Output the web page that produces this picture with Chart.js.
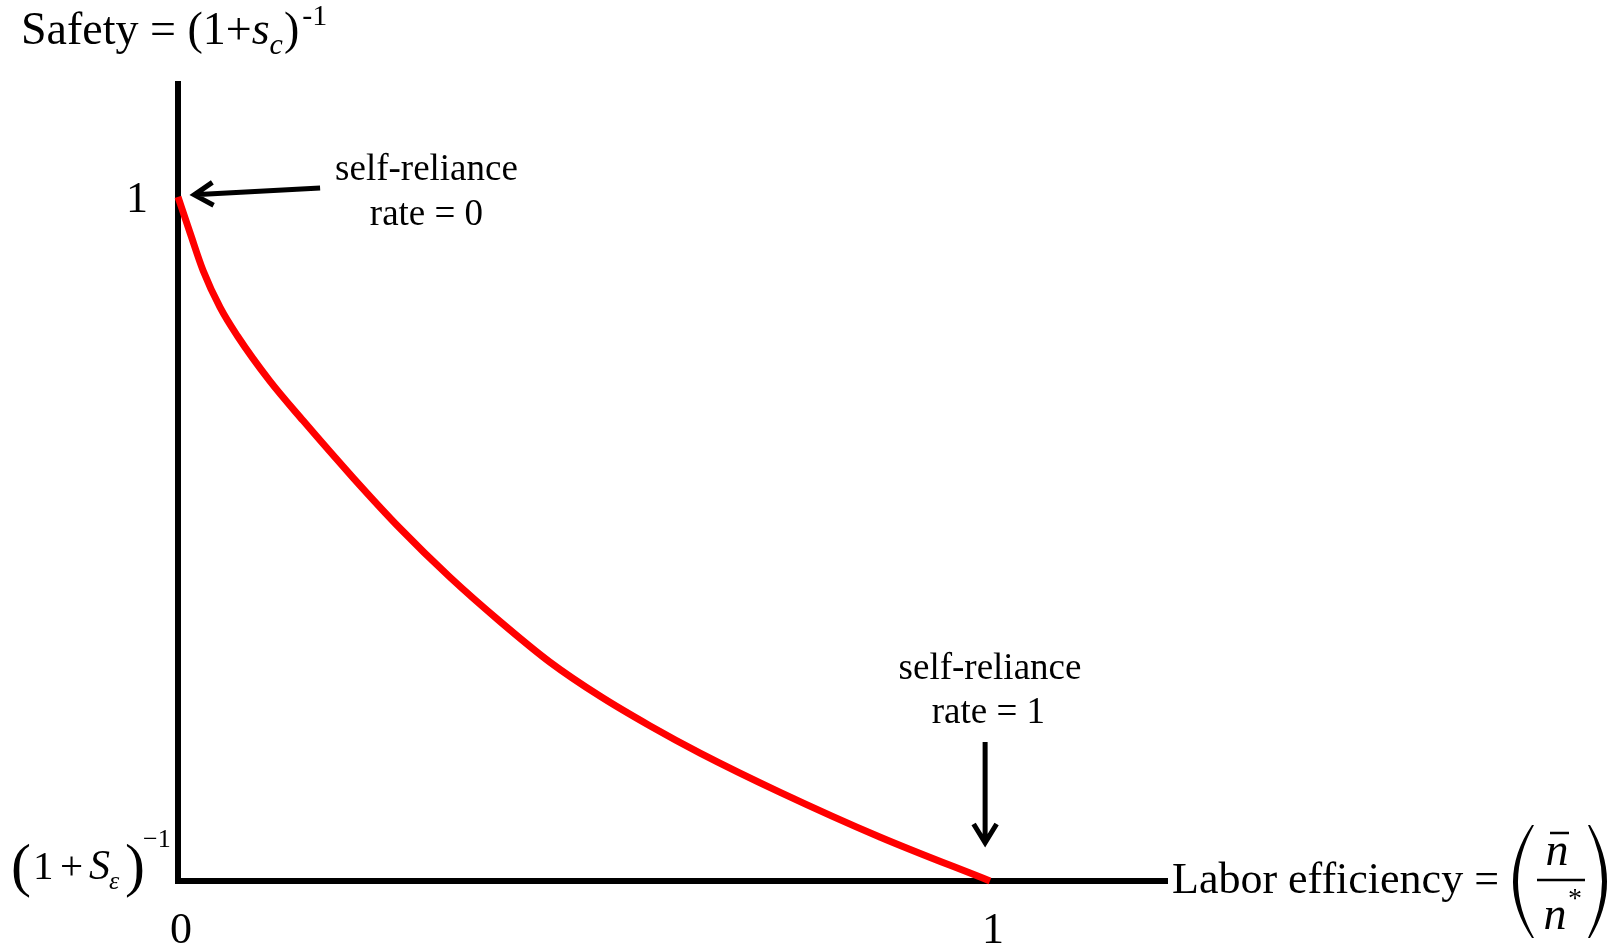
<!DOCTYPE html>
<html>
<head>
<meta charset="utf-8">
<script src="https://cdn.jsdelivr.net/npm/chart.js@4.4.1/dist/chart.umd.min.js"></script>
<style>
    body { margin: 0; background: #fff; }
    #canvas_container { width: 1619px; height: 949px; position: relative; }
</style>
</head>
<body>
<div id="canvas_container"><canvas id="graph"></canvas></div>
<script>
// labor efficiency (n bar / n*) and safety (1+s_c)^-1
const laborEfficiency = [0, 0.015, 0.031, 0.052, 0.073, 0.113, 0.154, 0.216, 0.273, 0.335, 0.397,
    0.458, 0.520, 0.581, 0.643, 0.741, 0.865, 1.0];
const safety = [1.0, 0.947, 0.892, 0.838, 0.797, 0.731, 0.673, 0.589, 0.516, 0.444, 0.379,
    0.320, 0.270, 0.227, 0.187, 0.130, 0.064, 0.0];

const xTickValues = [0, 1];
const xTickLabels = ['0', '1'];
const yTickValues = [1];
const yTickLabels = ['1'];

const noteLines0 = ['self-reliance', 'rate = 0'];
const noteLines1 = ['self-reliance', 'rate = 1'];

const serif = "'Liberation Serif', 'Times New Roman', serif";

function drawRuns(ctx, x, y, runs) {
    runs.forEach(function(r) {
        ctx.font = r.font;
        x += r.dx || 0;
        ctx.fillText(r.text, x, y + (r.dy || 0));
        x += ctx.measureText(r.text).width;
    });
    return x;
}

function arrow(ctx, x1, y1, x2, y2) {
    // shaft from (x1,y1) to tip (x2,y2), open head
    const a = Math.atan2(y2 - y1, x2 - x1);
    const len = 22, spread = 0.55;
    ctx.beginPath();
    ctx.moveTo(x1, y1);
    ctx.lineTo(x2, y2);
    ctx.moveTo(x2 - len * Math.cos(a - spread), y2 - len * Math.sin(a - spread));
    ctx.lineTo(x2, y2);
    ctx.lineTo(x2 - len * Math.cos(a + spread), y2 - len * Math.sin(a + spread));
    ctx.stroke();
}

// thin crescent, used for the tall parentheses
function paren(ctx, xTop, xCtrlOut, xCtrlIn, xTopIn, yTop, yBot) {
    const ym = (yTop + yBot) / 2;
    ctx.beginPath();
    ctx.moveTo(xTop, yTop);
    ctx.quadraticCurveTo(xCtrlOut, ym, xTop, yBot);
    ctx.lineTo(xTopIn, yBot);
    ctx.quadraticCurveTo(xCtrlIn, ym, xTopIn, yTop);
    ctx.closePath();
    ctx.fill();
}

const textPlugin = {
    id: 'labels',
    afterDraw: function(chart) {
        const ctx = chart.ctx;
        const xs = chart.scales.x, ys = chart.scales.y;
        const y0 = ys.getPixelForValue(0);
        ctx.save();
        ctx.fillStyle = '#000';
        ctx.strokeStyle = '#000';
        ctx.textBaseline = 'alphabetic';

        // title
        ctx.textAlign = 'left';
        drawRuns(ctx, 21, 44, [
            {text: 'Safety = (1+', font: '46px ' + serif},
            {text: 's', font: 'italic 46px ' + serif},
            {text: 'c', font: 'italic 30px ' + serif, dy: 10},
            {text: ')', font: '46px ' + serif, dx: 1},
            {text: '-1', font: '30px ' + serif, dy: -19, dx: 3}
        ]);

        // tick labels
        ctx.font = '44px ' + serif;
        ctx.textAlign = 'center';
        xTickValues.forEach(function(v, i) {
            ctx.fillText(xTickLabels[i], xs.getPixelForValue(v) + 3, 943);
        });
        yTickValues.forEach(function(v, i) {
            ctx.fillText(yTickLabels[i], 137, ys.getPixelForValue(v) + 15);
        });

        // (1 + s_eps)^-1 at the bottom of the y axis
        ctx.textAlign = 'left';
        ctx.font = '60px ' + serif; ctx.fillText('(', 11, y0 + 4);
        ctx.font = '41px ' + serif; ctx.fillText('1', 33, y0 - 2);
        ctx.font = '41px ' + serif; ctx.fillText('+', 60, y0 - 2);
        ctx.font = 'italic 42px ' + serif; ctx.fillText('S', 89, y0 - 2);
        ctx.font = 'italic 26px ' + serif; ctx.fillText('\u03b5', 109, y0 + 8);
        ctx.font = '60px ' + serif; ctx.fillText(')', 125, y0 + 4);
        ctx.font = '26px ' + serif; ctx.fillText('\u22121', 143, y0 - 34);

        // x axis label: Labor efficiency = (n bar / n*)
        const xr = xs.right;
        ctx.font = '44px ' + serif;
        ctx.fillText('Labor efficiency =', xr + 5, y0 + 12);
        paren(ctx, xr + 365, xr + 327, xr + 335, xr + 367, y0 - 56, y0 + 57);
        paren(ctx, xr + 423, xr + 457, xr + 449, xr + 421, y0 - 56, y0 + 57);
        ctx.font = 'italic 46px ' + serif;
        ctx.textAlign = 'center';
        ctx.fillText('n', xr + 390, y0 - 16);
        ctx.fillText('n', xr + 388, y0 + 48);
        ctx.font = '28px ' + serif;
        ctx.fillText('*', xr + 408, y0 + 26);
        ctx.lineWidth = 2.5;
        ctx.beginPath();
        ctx.moveTo(xr + 370, y0 - 1); ctx.lineTo(xr + 418, y0 - 1);
        ctx.moveTo(xr + 383, y0 - 48); ctx.lineTo(xr + 402, y0 - 48);
        ctx.stroke();

        // annotations
        ctx.font = '37px ' + serif;
        ctx.textAlign = 'center';
        ctx.fillText(noteLines0[0], xs.getPixelForValue(0.306), ys.getPixelForValue(1.025));
        ctx.fillText(noteLines0[1], xs.getPixelForValue(0.306), ys.getPixelForValue(0.959));
        ctx.fillText(noteLines1[0], xs.getPixelForValue(1.0), ys.getPixelForValue(0.296));
        ctx.fillText(noteLines1[1], xs.getPixelForValue(0.998), ys.getPixelForValue(0.231));

        ctx.lineWidth = 5;
        ctx.lineCap = 'butt';
        arrow(ctx, xs.getPixelForValue(0.175), ys.getPixelForValue(1.013),
            xs.getPixelForValue(0.02), ys.getPixelForValue(1.003));
        arrow(ctx, xs.getPixelForValue(0.994), ys.getPixelForValue(0.203),
            xs.getPixelForValue(0.994), ys.getPixelForValue(0.056));
        ctx.restore();
    }
};

const points = laborEfficiency.map(function(v, i) { return {x: v, y: safety[i]}; });

new Chart($id('graph'), {
    type: 'scatter',
    data: {
        datasets: [{
            label: 'Safety',
            data: points,
            showLine: true,
            borderColor: '#ff0000',
            borderWidth: 7,
            pointRadius: 0,
            cubicInterpolationMode: 'monotone',
            clip: false
        }]
    },
    options: {
        responsive: true,
        maintainAspectRatio: false,
        animation: false,
        layout: { padding: { left: 178, top: 84, right: 452, bottom: 68 } },
        plugins: { legend: { display: false }, tooltip: { enabled: false } },
        scales: {
            x: {
                type: 'linear', min: 0, max: 1.218,
                grid: { display: false, drawTicks: false },
                ticks: { display: false },
                border: { display: true, color: '#000', width: 6 }
            },
            y: {
                type: 'linear', min: 0, max: 1.165,
                grid: { display: false, drawTicks: false },
                ticks: { display: false },
                border: { display: true, color: '#000', width: 6 }
            }
        }
    },
    plugins: [textPlugin]
});

function $id(id) { return document.getElementById(id); }
</script>
</body>
</html>
